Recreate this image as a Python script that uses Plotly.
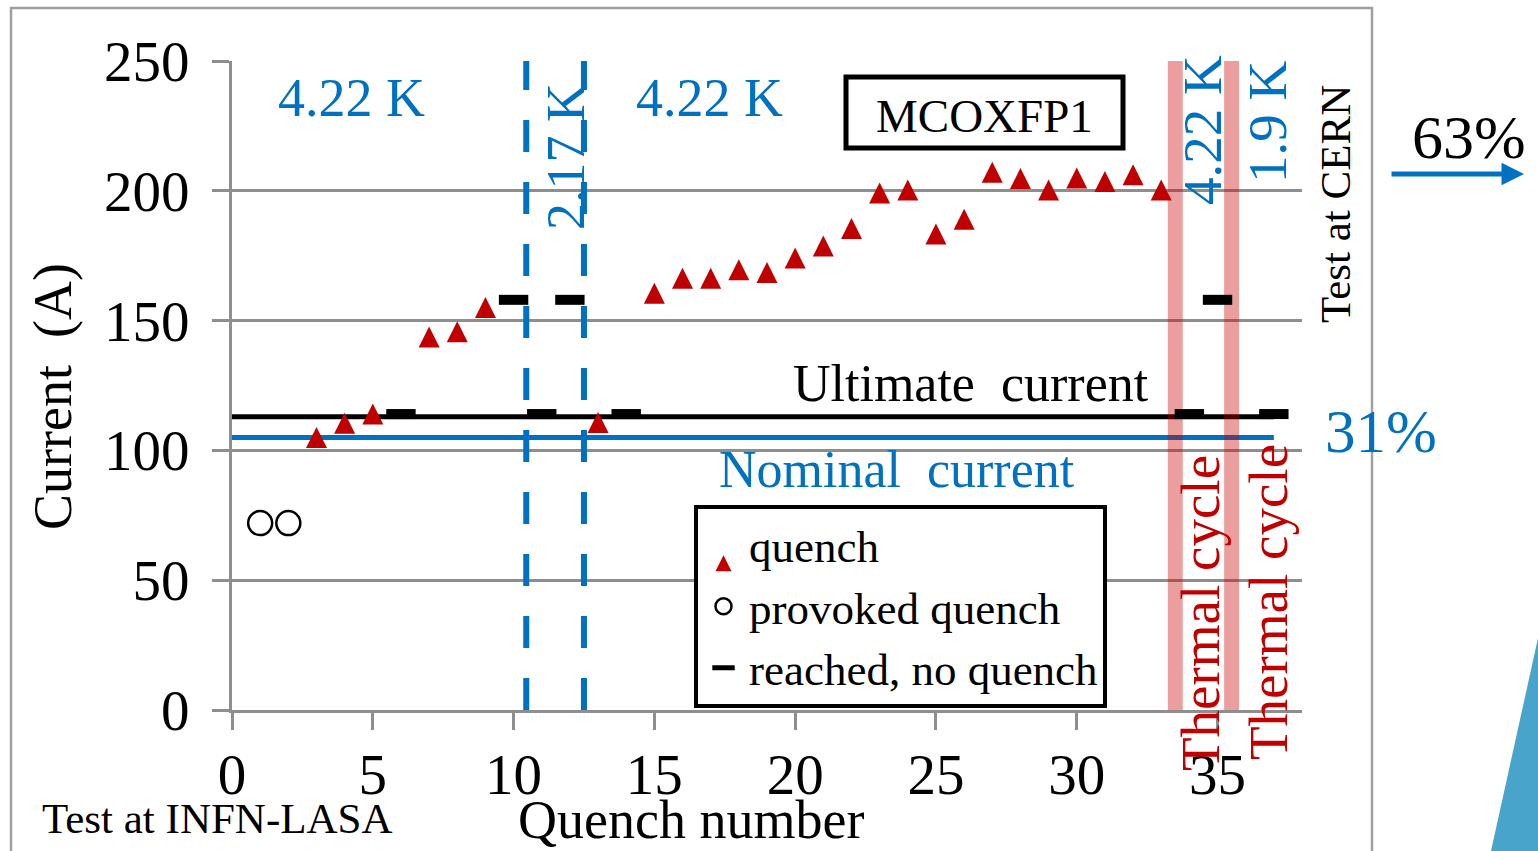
import plotly.graph_objects as go

# ---------------- data ----------------
quench_x = [3, 4, 5, 7, 8, 9, 13, 15, 16, 17, 18, 19, 20, 21, 22, 23, 24, 25, 26,
            27, 28, 29, 30, 31, 32, 33]
quench_y = [105, 110.5, 114, 143.7, 145.7, 155, 110.7, 160.5, 166.3, 166.3, 169.6,
            168.5, 174.1, 178.7, 185.5, 199.2, 200.3, 183.4, 189, 207.1, 204.7,
            200.3, 204.9, 203.6, 206.2, 200.3]
provoked_x = [1, 2]
provoked_y = [72, 72]
reached_x = [6, 10, 11, 12, 14, 34, 35, 37]
reached_y = [114, 158, 114, 158, 114, 114, 158, 114]
nominal_current = 105
ultimate_current = 113
current_line_end = 37
temperature_change_x = [10.45, 12.5]
thermal_cycle_x = [33.5, 35.5]
x_ticks = [0, 5, 10, 15, 20, 25, 30, 35]
y_ticks = [0, 50, 100, 150, 200, 250]

BLUE = "#0070C0"
RED = "#C00000"
GRID = "#8e8e8e"
FONT = "Liberation Serif"

# plot-area pixel frame (figure 1538x851)
L, R, T, B = 232, 1302, 61, 710


def px(x):
    return (x - L) / (R - L)


def py(y):
    return (B - y) / (B - T)


fig = go.Figure()

TRI = 21
fig.add_trace(go.Scatter(
    x=quench_x, y=quench_y, mode="markers", name="quench",
    marker=dict(symbol="arrow-down", angle=180, size=TRI, standoff=TRI / 2,
                color=RED, line=dict(width=0)),
))
fig.add_trace(go.Scatter(
    x=provoked_x, y=provoked_y, mode="markers", name="provoked quench",
    marker=dict(symbol="circle-open", size=24, color="black",
                line=dict(width=2.5, color="black")),
))
fig.add_trace(go.Scatter(
    x=reached_x, y=reached_y, mode="markers", name="reached, no quench",
    marker=dict(symbol="line-ew", size=21, color="black",
                line=dict(width=10, color="black")),
))

shapes = []
# nominal / ultimate current lines
shapes.append(dict(type="line", xref="x", yref="y", x0=0, x1=current_line_end,
                   y0=ultimate_current, y1=ultimate_current, layer="between",
                   line=dict(color="black", width=5)))
shapes.append(dict(type="line", xref="x", yref="y", x0=0, x1=current_line_end,
                   y0=nominal_current, y1=nominal_current, layer="between",
                   line=dict(color=BLUE, width=5)))
# temperature change dashed lines
for xv in temperature_change_x:
    shapes.append(dict(type="line", xref="x", yref="y", x0=xv, x1=xv, y0=0, y1=250,
                       layer="between",
                       line=dict(color=BLUE, width=6, dash="32px,30px")))
# thermal cycle bands
for xv in thermal_cycle_x:
    shapes.append(dict(type="rect", xref="x", yref="y", x0=xv - 0.265, x1=xv + 0.265,
                       y0=0, y1=250, layer="between", line=dict(width=0),
                       fillcolor="rgba(200,0,0,0.38)"))
# MCOXFP1 box
shapes.append(dict(type="rect", xref="paper", yref="paper",
                   x0=px(846), x1=px(1123), y0=py(77), y1=py(148),
                   line=dict(color="black", width=5), fillcolor="white", layer="above"))
# slide frame
shapes.append(dict(type="rect", xref="paper", yref="paper",
                   x0=px(11), x1=px(1372), y0=py(8), y1=py(870),
                   line=dict(color="#a0a0a0", width=2.5), layer="below"))
# decorative wedge
shapes.append(dict(type="path", xref="paper", yref="paper",
                   path=f"M {px(1538)},{py(638)} L {px(1491)},{py(851)} L {px(1538)},{py(851)} Z",
                   fillcolor="#49a4cc", line=dict(width=0), layer="above"))


def ann(text, x, y, size, color="black", angle=0):
    return dict(text=text, x=px(x), y=py(y), xref="paper", yref="paper",
                xanchor="center", yanchor="middle", showarrow=False,
                textangle=angle, font=dict(family=FONT, size=size, color=color))


annotations = [
    ann("Current  (A)", 53, 397, 54, angle=-90),
    ann("Quench number", 691, 820, 54),
    ann("Test at INFN-LASA", 217, 818, 43),
    ann("4.22 K", 351, 98, 54, BLUE),
    ann("4.22 K", 709, 98, 54, BLUE),
    ann("2.17 K", 566, 157, 54, BLUE, -90),
    ann("MCOXFP1", 984, 116, 47),
    ann("Ultimate  current", 971, 384, 52),
    ann("Nominal  current", 897, 470, 52, BLUE),
    ann("Thermal cycle", 1200, 613, 55, RED, -90),
    ann("Thermal cycle", 1268, 602, 55, RED, -90),
    ann("4.22 K", 1203, 130, 55, BLUE, -90),
    ann("1.9 K", 1267, 122, 55, BLUE, -90),
    ann("Test at CERN", 1336, 204, 43, angle=-90),
    ann("63%", 1469, 137, 62),
    ann("31%", 1381, 431, 61, BLUE),
    dict(text="", x=px(1524), y=py(174), xref="paper", yref="paper",
         showarrow=True, ax=-134, ay=0, arrowhead=2, arrowsize=0.9,
         arrowwidth=5, arrowcolor=BLUE),
]

fig.update_layout(
    width=1538, height=851,
    margin=dict(l=L, r=1538 - R, t=T, b=851 - B, autoexpand=False),
    paper_bgcolor="white", plot_bgcolor="white",
    font=dict(family=FONT, size=57, color="black"),
    shapes=shapes, annotations=annotations,
    legend=dict(x=px(694), y=py(505), xanchor="left", yanchor="top",
                bgcolor="white", bordercolor="black", borderwidth=4,
                font=dict(family=FONT, size=45, color="black"),
                itemwidth=41, tracegroupgap=0),
    showlegend=True,
)
fig.update_xaxes(range=[0, 38], tickvals=x_ticks, showgrid=False, zeroline=False,
                 showline=True, linecolor=GRID, linewidth=3,
                 ticks="outside", ticklen=17, tickwidth=3, tickcolor=GRID,
                 ticklabelstandoff=-4,
                 tickfont=dict(family=FONT, size=57, color="black"))
fig.update_yaxes(range=[0, 250], tickvals=y_ticks, showgrid=True, gridcolor=GRID,
                 gridwidth=3, zeroline=False, showline=True, linecolor=GRID,
                 linewidth=3, ticks="outside", ticklen=17, tickwidth=3,
                 tickcolor=GRID, ticklabelstandoff=11,
                 tickfont=dict(family=FONT, size=57, color="black"))

fig.write_html("out.html", config={"displayModeBar": False},
               post_script="document.body.style.margin='0px';"
                           "document.body.style.overflow='hidden';")
